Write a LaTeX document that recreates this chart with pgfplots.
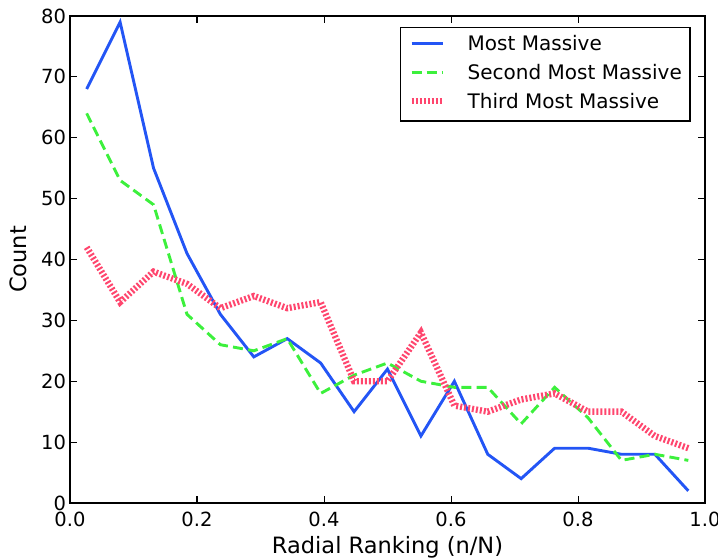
\documentclass[border=0pt]{standalone}
\usepackage{fontspec}
\setmainfont{DejaVu Sans}
\usepackage{pgfplots}
\usepackage{pgfplotstable}
\pgfplotsset{compat=1.18}
\definecolor{cblue}{RGB}{35,85,245}
\definecolor{cgreen}{RGB}{60,240,60}
\definecolor{cpink}{RGB}{255,70,110}

\pgfplotstableread{
x      most second third
0.0263 68   64     42
0.0789 79   53     33
0.1316 55   49     38
0.1842 41   31     36
0.2368 31   26     32
0.2895 24   25     34
0.3421 27   27     32
0.3947 23   18     33
0.4474 15   21     20
0.5000 22   23     20
0.5526 11   20     28
0.6053 20   19     16
0.6579 8    19     15
0.7105 4    13     17
0.7632 9    19     18
0.8158 9    14     15
0.8684 8    7      15
0.9211 8    8      11
0.9737 2    7      9
}\datatable

\begin{document}
\begin{tikzpicture}
\useasboundingbox (-35pt,-28.5pt) rectangle (324pt,251.5pt);
\begin{axis}[
  name=ax, at={(0,0)}, anchor=south west,
  scale only axis, width=317.5pt, height=243.5pt,
  xmin=0, xmax=1, ymin=0, ymax=80,
  xtick={0,0.2,0.4,0.6,0.8,1},
  ytick={0,10,20,30,40,50,60,70,80},
  xticklabel style={/pgf/number format/.cd, fixed, fixed zerofill, precision=1, /tikz/.cd},
  /pgf/number format/assume math mode=true,
  tick align=inside, tick pos=both,
  major tick length=3.4pt,
  every tick/.style={black, line width=0.5pt},
  axis line style={line width=0.8pt},
  tick label style={font=\fontsize{9.75}{11}\selectfont},
  xticklabel style={inner sep=0pt, anchor=north, yshift=-4.35pt},
  yticklabel style={inner sep=0pt, anchor=east, xshift=-1.8pt},
  label style={font=\fontsize{11.25}{13}\selectfont},
  xlabel={Radial Ranking (n/N)},
  ylabel={Count},
  xlabel style={at={(axis description cs:0.5,-0.1035)}, anchor=base, inner sep=0pt},
  ylabel style={at={(axis description cs:-0.0682,0.5)}, anchor=base, inner sep=0pt, rotate=0},
  legend style={at={(1,1)}, anchor=north east, xshift=-7.2pt, yshift=-5.4pt,
    draw=black, line width=0.75pt, inner xsep=4pt, inner ysep=4.3pt,
    row sep=4.95pt, column sep=11pt,
    font=\fontsize{10}{11}\selectfont,
    nodes={inner sep=0pt, text height=7.3pt, text depth=2.1pt}},
  legend cell align=left,
  legend image code/.code={\draw[#1] (2.5pt,1pt) -- (18pt,1pt);},
]
\addplot[cblue, line width=1.45pt] table[x=x, y=most] {\datatable};
\addlegendentry{Most Massive}
\addplot[cgreen, line width=1.45pt, dash pattern=on 5pt off 2.6pt] table[x=x, y=second] {\datatable};
\addlegendentry{Second Most Massive}
\addplot[cpink, line width=3.2pt, dash pattern=on 1pt off 1pt] table[x=x, y=third] {\datatable};
\addlegendentry{Third Most Massive}
\end{axis}
\end{tikzpicture}
\end{document}
